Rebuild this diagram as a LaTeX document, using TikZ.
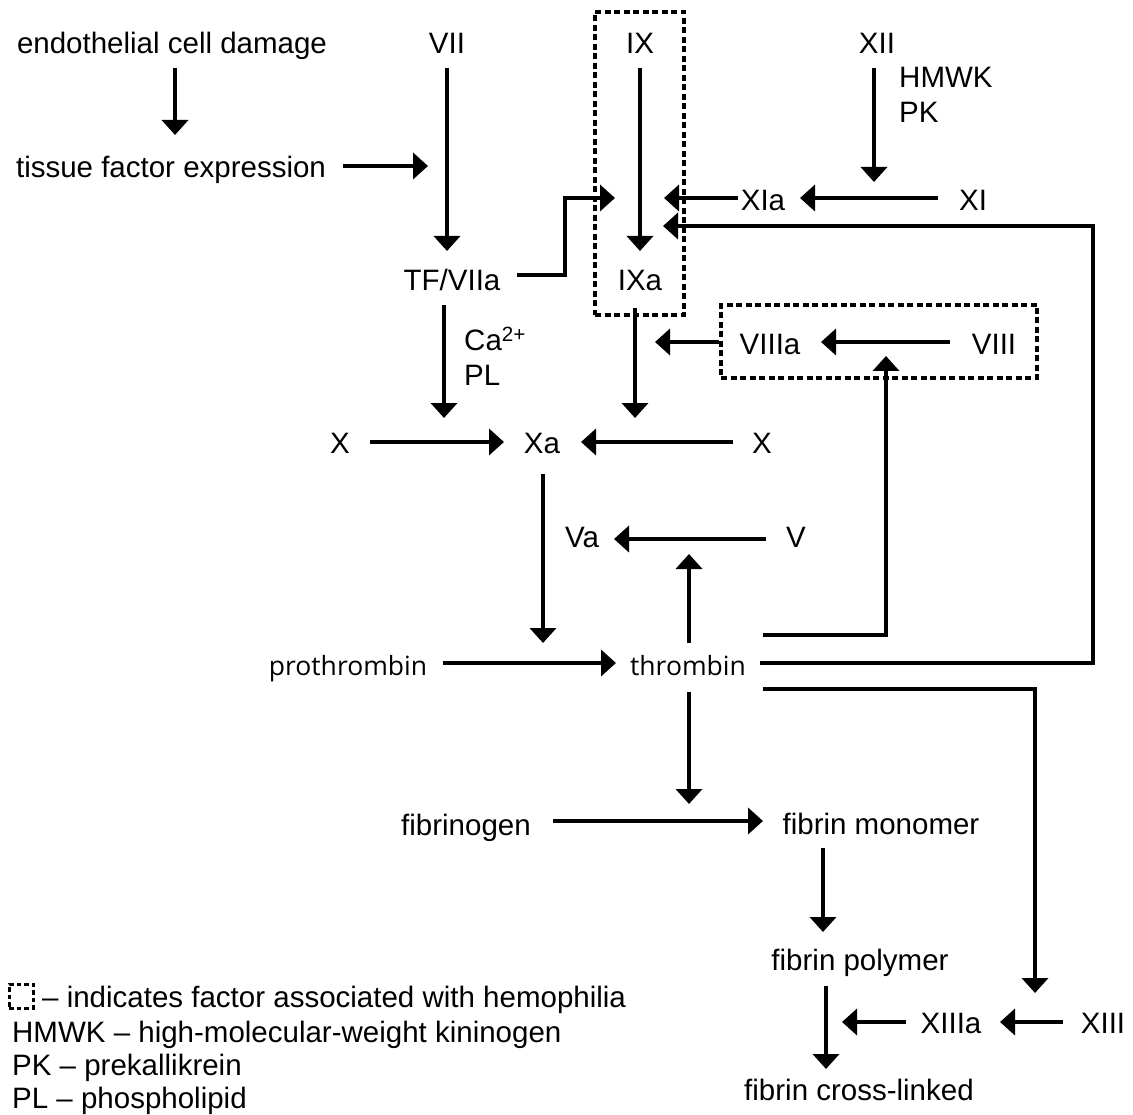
\documentclass[tikz,border=0pt]{standalone}
\usepackage{fontspec}
\setmainfont{Liberation Sans}
\newfontfamily\segf{Open Sans}
\usetikzlibrary{arrows.meta}
\begin{document}
\begin{tikzpicture}[x=1pt,y=-1pt,
  lbl/.style={font=\fontsize{29.5}{33}\selectfont, inner sep=0pt, text height=22pt, text depth=1pt},
  slbl/.style={font=\segf\fontsize{26.5}{30}\selectfont, inner sep=0pt, text height=22pt, text depth=1pt},
  arr/.style={line width=4pt, -{Triangle[length=15pt,width=26pt]}},
  ln/.style={line width=4pt},
  hbox/.style={line width=3.5pt, dash pattern=on 6pt off 3.5pt}]
\useasboundingbox (0,0) rectangle (1133,1115);

% ---- nodes ----
\node[lbl] (endo) at (172,43) {endothelial cell damage};
\node[lbl] (tfe) at (171,167) {tissue factor expression};
\node[lbl] (VII) at (447,43) {VII};
\node[lbl] (TF) at (452,280) {TF/VIIa};
\node[lbl] (IX) at (640,43) {IX};
\node[lbl] (IXa) at (640,280) {IXa};
\node[lbl] (XII) at (877,43) {XII};
\node[lbl, anchor=west] (HMWK) at (899,77) {HMWK};
\node[lbl, anchor=west] (PK) at (899,112) {PK};
\node[lbl] (XIa) at (763,200) {XIa};
\node[lbl] (XI) at (973,200) {XI};
\node[lbl, anchor=west] (Ca) at (464,340) {Ca\textsuperscript{2+}};
\node[lbl, anchor=west] (PL) at (464,375) {PL};
\node[lbl] (VIIIa) at (770,344) {VIIIa};
\node[lbl] (VIII) at (994,344) {VIII};
\node[lbl] (XL) at (340,443) {X};
\node[lbl] (Xa) at (542,443) {Xa};
\node[lbl] (XR) at (762,443) {X};
\node[lbl] (Va) at (582,537) {Va};
\node[lbl] (V) at (796,537) {V};
\node[slbl] (proth) at (348,665) {prothrombin};
\node[slbl] (thr) at (688,665) {thrombin};
\node[lbl] (fibg) at (466,825) {fibrinogen};
\node[lbl] (fmon) at (881,824) {fibrin monomer};
\node[lbl] (fpol) at (860,960) {fibrin polymer};
\node[lbl] (fcl) at (859,1090) {fibrin cross-linked};
\node[lbl] (XIIIa) at (951,1023) {XIIIa};
\node[lbl] (XIII) at (1103,1023) {XIII};

% ---- dashed boxes (hemophilia factors) ----
\node[draw, hbox, inner sep=0pt, minimum width=89pt, minimum height=303pt] (boxIX) at (639.5,163.5) {};
\node[draw, hbox, inner sep=0pt, minimum width=316pt, minimum height=73pt] (boxVIII) at (879,341.5) {};

% ---- connector end points ----
\coordinate (a1s) at (175,68);   \coordinate (a1e) at (175,135);
\coordinate (a2s) at (343,166);  \coordinate (a2e) at (428,166);
\coordinate (a3s) at (447,68);   \coordinate (a3e) at (447,251);
\coordinate (a4s) at (640,68);   \coordinate (a4e) at (640,251);
\coordinate (a5s) at (517,275);  \coordinate (a5e) at (615,198);
\coordinate (a6s) at (874,68);   \coordinate (a6e) at (874,182);
\coordinate (a7s) at (938,198);  \coordinate (a7e) at (800,198);
\coordinate (a8s) at (738,198);  \coordinate (a8e) at (664,198);
\coordinate (a9e) at (663,226);
\coordinate (a10s) at (444,305); \coordinate (a10e) at (444,418);
\coordinate (a11s) at (635,308); \coordinate (a11e) at (635,418);
\coordinate (a12s) at (950,342); \coordinate (a12e) at (821,342);
\coordinate (a13e) at (655,342);
\coordinate (a14s) at (370,442); \coordinate (a14e) at (504,442);
\coordinate (a15s) at (733,442); \coordinate (a15e) at (581,442);
\coordinate (a16s) at (543,474); \coordinate (a16e) at (543,643);
\coordinate (a17s) at (766,539); \coordinate (a17e) at (614,539);
\coordinate (a18s) at (689,643); \coordinate (a18e) at (689,554);
\coordinate (a19s) at (443,663); \coordinate (a19e) at (616,663);
\coordinate (t1) at (763,635);   \coordinate (a20e) at (886,356);
\coordinate (t2) at (760,663);
\coordinate (t3) at (763,689);   \coordinate (a22e) at (1035,993);
\coordinate (a23s) at (689,692); \coordinate (a23e) at (689,804);
\coordinate (a24s) at (553,821); \coordinate (a24e) at (763,821);
\coordinate (a25s) at (823,848); \coordinate (a25e) at (823,932);
\coordinate (a26s) at (826,986); \coordinate (a26e) at (826,1069);
\coordinate (a27s) at (1063,1022); \coordinate (a27e) at (1000,1022);
\coordinate (a28s) at (906,1022);  \coordinate (a28e) at (842,1022);

% ---- connectors ----
\draw[arr] (a1s) -- (a1e);
\draw[arr] (a2s) -- (a2e);
\draw[arr] (a3s) -- (a3e);
\draw[arr] (a4s) -- (a4e);
\draw[arr] (a5s) -- (565,275) -- (565,198) -- (a5e);
\draw[arr] (a6s) -- (a6e);
\draw[arr] (a7s) -- (a7e);
\draw[arr] (a8s) -- (a8e);
\draw[arr] (t2) -- (1093,663) -- (1093,226) -- (a9e);
\draw[arr] (a10s) -- (a10e);
\draw[arr] (a11s) -- (a11e);
\draw[arr] (a12s) -- (a12e);
\draw[arr] (boxVIII.west |- a13e) -- (a13e);
\draw[arr] (a14s) -- (a14e);
\draw[arr] (a15s) -- (a15e);
\draw[arr] (a16s) -- (a16e);
\draw[arr] (a17s) -- (a17e);
\draw[arr] (a18s) -- (a18e);
\draw[arr] (a19s) -- (a19e);
\draw[arr] (t1) -- (886,635) -- (a20e);
\draw[arr] (t3) -- (1035,689) -- (a22e);
\draw[arr] (a23s) -- (a23e);
\draw[arr] (a24s) -- (a24e);
\draw[arr] (a25s) -- (a25e);
\draw[arr] (a26s) -- (a26e);
\draw[arr] (a27s) -- (a27e);
\draw[arr] (a28s) -- (a28e);

% ---- legend ----
\node[draw, line width=3pt, dash pattern=on 4.5pt off 3pt, inner sep=0pt, minimum size=24pt] (legbox) at (21,996) {};
\node[lbl, anchor=west] (leg1) at (42,997) {-- indicates factor associated with hemophilia};
\node[lbl, anchor=west] (leg2) at (12,1032) {HMWK -- high-molecular-weight kininogen};
\node[lbl, anchor=west] (leg3) at (12,1065) {PK -- prekallikrein};
\node[lbl, anchor=west] (leg4) at (12,1098) {PL -- phospholipid};
\end{tikzpicture}
\end{document}
